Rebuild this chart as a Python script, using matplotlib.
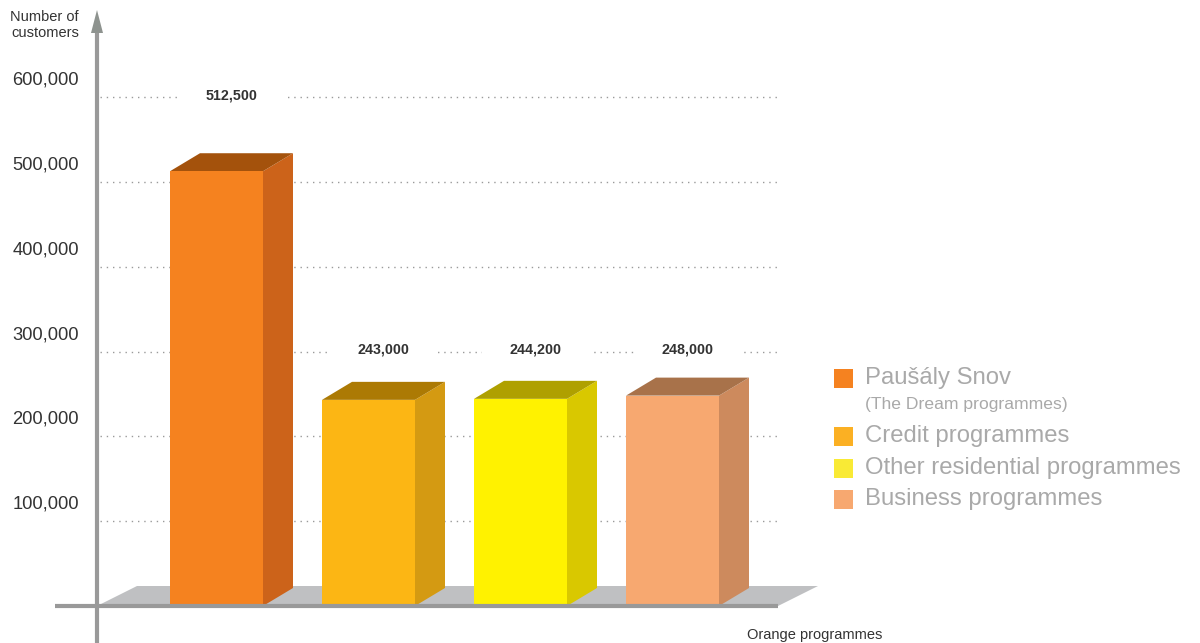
import math
import matplotlib
matplotlib.use("Agg")
import matplotlib.pyplot as plt
from matplotlib.patches import Polygon, Rectangle

plt.rcParams['font.family'] = ['Liberation Sans', 'DejaVu Sans']

# --- data -------------------------------------------------------------
categories = ["Paušály Snov", "Credit programmes",
              "Other residential programmes", "Business programmes"]
subtitles = ["(The Dream programmes)", "", "", ""]
values = [512500, 243000, 244200, 248000]
value_labels = ["512,500", "243,000", "244,200", "248,000"]
y_ticks = [100000, 200000, 300000, 400000, 500000, 600000]
y_tick_labels = ["100,000", "200,000", "300,000", "400,000", "500,000", "600,000"]

# front / side / top shades for each bar, and legend swatch colours
front_colors = ["#F5821F", "#FCB614", "#FFF200", "#F7A870"]
side_colors = ["#CC631A", "#D49A12", "#D9C800", "#CD8A5D"]
top_colors = ["#A4520C", "#AC7A04", "#AFA000", "#A8724A"]
legend_colors = ["#F58220", "#FBB023", "#F9EA35", "#F7A870"]

W, H = 1200, 643
fig = plt.figure(figsize=(W / 100, H / 100), dpi=100)
fig.patch.set_facecolor("white")

# plotting region: x-axis from px 97 to 778, y from 0 (px 606) to 600k (px 97)
ax = fig.add_axes([97 / W, 37 / H, 681 / W, 509 / H])
x0, x1 = (97 - 216.5) / 152, (778 - 216.5) / 152
ax.set_xlim(x0, x1)
ax.set_ylim(0, 600000)
ax.axis("off")


def px_x(n):
    return n * (x1 - x0) / 681


def px_y(n):
    return n * 600000 / 509


GRID = "#9A9A9A"
AXIS = "#999999"
TXT = "#333333"

# dotted gridlines
for t in y_ticks:
    ax.plot([x0 + px_x(3), x1], [t, t], color=GRID, lw=1.0,
            linestyle=(0, (1, 3.5)), zorder=1, clip_on=False)

# floor slab
fdx, fdy = px_x(40), px_y(20)
ax.add_patch(Polygon([(x0, 0), (x1, 0), (x1 + fdx, fdy), (x0 + fdx, fdy)],
                     closed=True, facecolor="#BFC0C2", edgecolor="none",
                     zorder=2, clip_on=False))

# bars with pseudo-3D side and top faces
bw = 93 / 152
ddx, ddy = px_x(30), px_y(18)
xs = list(range(len(values)))
ax.bar(xs, values, width=bw, color=front_colors, zorder=5, clip_on=False)
for i, v in enumerate(values):
    l, r = i - bw / 2, i + bw / 2
    ax.add_patch(Polygon([(r, 0), (r + ddx, ddy), (r + ddx, v + ddy), (r, v)],
                         closed=True, facecolor=side_colors[i],
                         edgecolor="none", zorder=4, clip_on=False))
    ax.add_patch(Polygon([(l, v), (r, v), (r + ddx, v + ddy), (l + ddx, v + ddy)],
                         closed=True, facecolor=top_colors[i],
                         edgecolor="none", zorder=4, clip_on=False))

    # value label on the next gridline up, breaking the dotted line
    gy = math.ceil(v / 100000) * 100000
    cx = i + ddx / 2
    ax.plot([cx - px_x(54), cx + px_x(54)], [gy, gy], color="white", lw=4,
            zorder=2, solid_capstyle="butt", clip_on=False)
    ax.text(cx, gy + px_y(2), value_labels[i], ha="center", va="center",
            fontsize=10.3, fontweight="bold", color=TXT, zorder=6)

# axes lines
ax.plot([x0 - px_x(42), x1], [0, 0], color=AXIS, lw=3.0, zorder=7,
        solid_capstyle="butt", clip_on=False)
ax.plot([x0, x0], [-px_y(40), px_y(606 - 33)], color=AXIS, lw=3.0,
        zorder=7, solid_capstyle="butt", clip_on=False)
ax.add_patch(Polygon([(x0 - px_x(6), px_y(606 - 33)),
                      (x0 + px_x(6), px_y(606 - 33)),
                      (x0, px_y(606 - 10))],
                     closed=True, facecolor="#8E938F", edgecolor="none",
                     zorder=7, clip_on=False))

# y tick labels
for t, lab in zip(y_ticks, y_tick_labels):
    ax.text(x0 - px_x(18), t + px_y(17), lab, ha="right", va="center",
            fontsize=13.2, color=TXT, clip_on=False)

ax.text(x0 - px_x(18), px_y(606 - 10), "Number of\ncustomers", ha="right",
        va="top", fontsize=10.5, color=TXT, linespacing=1.15, clip_on=False)

fig.text(815 / W, 1 - 635 / H, "Orange programmes", ha="center",
         va="center", fontsize=10.5, color=TXT)

# legend
LEG = "#A9A9A9"
rows = [378, 436, 468, 499]
for i, (name, sub) in enumerate(zip(categories, subtitles)):
    yc = rows[i]
    fig.add_artist(Rectangle((834 / W, 1 - (yc + 9.5) / H), 19 / W, 19 / H,
                             transform=fig.transFigure,
                             facecolor=legend_colors[i], edgecolor="none"))
    fig.text(865 / W, 1 - yc / H, name, ha="left", va="center",
             fontsize=17.2, color=LEG)
    if sub:
        fig.text(865 / W, 1 - (yc + 27) / H, sub, ha="left", va="center",
                 fontsize=12.6, color=LEG)

fig.savefig("out.png", dpi=100, facecolor="white")
